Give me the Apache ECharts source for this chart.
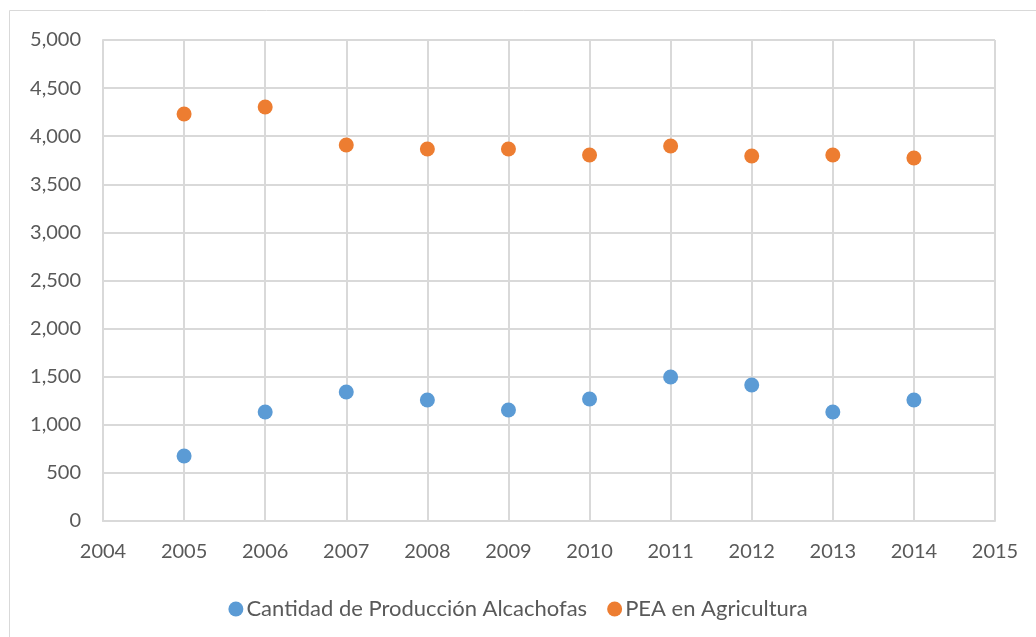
<!DOCTYPE html>
<html>
<head>
<meta charset="utf-8">
<script src="https://cdn.jsdelivr.net/npm/echarts@6/dist/echarts.min.js"></script>
<style>
  html, body { margin: 0; padding: 0; background: #fff; }
  #chart { width: 1036px; height: 637px; }
</style>
</head>
<body>
<div id="chart"></div>
<script>
  var years = [2005, 2006, 2007, 2008, 2009, 2010, 2011, 2012, 2013, 2014]
  var produccion = [676, 1133, 1341, 1258, 1154, 1268, 1497, 1414, 1133, 1258]
  var pea = [4231, 4304, 3909, 3867, 3867, 3805, 3898, 3794, 3805, 3773]
  var seriesNames = ['Cantidad de Producción Alcachofas', 'PEA en Agricultura']

  function pairs (vals) {
    return years.map(function (y, i) { return [y, vals[i]] })
  }

  var myChart = echarts.init(document.getElementById('chart'))
  var labelFont = { color: '#595959', fontSize: 20, fontFamily: 'Lato' }
  var option = {
    animation: false,
    textStyle: { fontFamily: 'Lato' },
    graphic: [{
      type: 'rect',
      shape: { x: 9.5, y: 10.5, width: 1100, height: 700 },
      style: { fill: 'none', stroke: '#d9d9d9', lineWidth: 1 },
      z: -1
    }],
    grid: { left: 103, right: 41, top: 40, bottom: 116 },
    legend: {
      top: 593,
      left: 'center',
      itemGap: 20,
      itemWidth: 15,
      itemHeight: 15,
      icon: 'circle',
      textStyle: { color: '#595959', fontSize: 22, fontFamily: 'Lato', padding: [0, 0, 0, -2] },
      data: seriesNames
    },
    xAxis: {
      type: 'value',
      min: 2004,
      max: 2015,
      interval: 1,
      axisLine: { lineStyle: { color: '#d9d9d9', width: 2 } },
      axisTick: { show: false },
      splitLine: { show: true, lineStyle: { color: '#d9d9d9', width: 2 } },
      axisLabel: Object.assign({ margin: 21, formatter: function (v) { return String(v) } }, labelFont)
    },
    yAxis: {
      type: 'value',
      min: 0,
      max: 5000,
      interval: 500,
      axisLine: { show: true, lineStyle: { color: '#d9d9d9', width: 2 } },
      axisTick: { show: false },
      splitLine: { lineStyle: { color: '#d9d9d9', width: 2 } },
      axisLabel: Object.assign({ margin: 22, formatter: function (v) { return v.toLocaleString('en-US') } }, labelFont)
    },
    series: [{
      name: seriesNames[0],
      type: 'scatter',
      symbolSize: 15,
      itemStyle: { color: '#5b9bd5', opacity: 1 },
      data: pairs(produccion)
    }, {
      name: seriesNames[1],
      type: 'scatter',
      symbolSize: 15,
      itemStyle: { color: '#ed7d31', opacity: 1 },
      data: pairs(pea)
    }]
  }
  myChart.setOption(option)
</script>
</body>
</html>
